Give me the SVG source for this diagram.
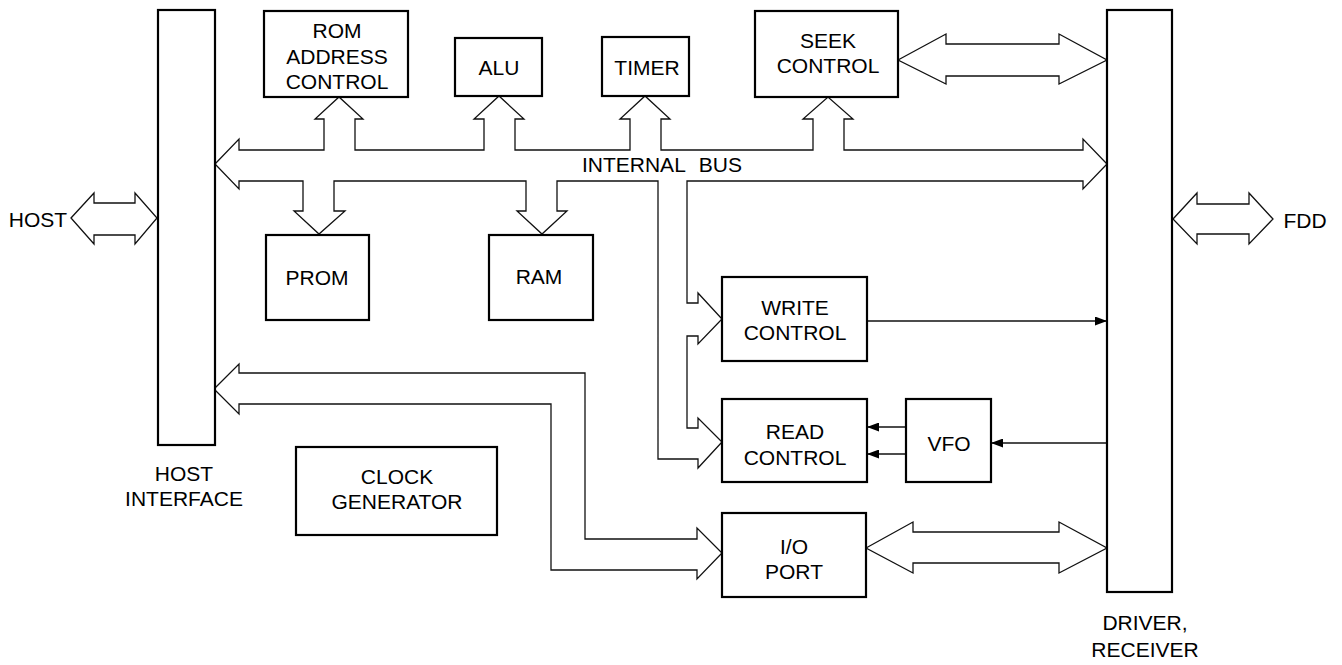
<svg xmlns="http://www.w3.org/2000/svg" width="1342" height="665" viewBox="0 0 1342 665">
<defs>
<style>
.box{fill:#fff;stroke:#000;stroke-width:2.2}
.bar{fill:#fff;stroke:#000;stroke-width:2.2}
.bus{fill:#fff;stroke:#111;stroke-width:1.3;stroke-linejoin:miter}
.ln{fill:none;stroke:#111;stroke-width:1.3}
text{font-family:"Liberation Sans",Arial,sans-serif;font-size:21px;fill:#000;text-anchor:middle}
</style>
<marker id="ah" markerWidth="13" markerHeight="9" refX="12" refY="4.5" orient="auto" markerUnits="userSpaceOnUse">
<path d="M0,0 L12,4.5 L0,9 Z" fill="#000"/>
</marker>
</defs>
<rect width="1342" height="665" fill="#fff"/>

<g id="connectors">
<path id="internal-bus" class="bus" d="M215,164 L239,139 L239,150 L324,150 L324,119 L315,119 L339,97 L363,119 L355,119 L355,150 L484,150 L484,119 L474,119 L499,96 L524,119 L515,119 L515,150 L630,150 L630,119 L620,119 L645,96 L670,119 L661,119 L661,150 L813,150 L813,119 L803,119 L828,97 L853,119 L844,119 L844,150 L1083,150 L1083,139 L1107,164 L1083,189 L1083,181 L687,181 L687,303 L698,303 L698,293 L722,319 L698,344 L698,336 L687,336 L687,428 L698,428 L698,418 L722,442 L698,468 L698,459 L658,459 L658,181 L557,181 L557,211 L567,211 L542,234 L517,211 L526,211 L526,181 L334,181 L334,211 L345,211 L319,234 L294,211 L303,211 L303,181 L239,181 L239,189 Z"/>
<path id="host-io-bus" class="bus" d="M214,389 L239,364 L239,373 L585,373 L585,539 L697,539 L697,528 L722,553 L697,579 L697,570 L551,570 L551,404 L239,404 L239,414 Z"/>
<path id="host-link" class="bus" d="M71,218 L94,193 L94,203 L135,203 L135,193 L157,218 L135,244 L135,235 L94,235 L94,244 Z"/>
<path id="fdd-link" class="bus" d="M1173,219 L1197,193 L1197,204 L1249,204 L1249,193 L1273,219 L1249,244 L1249,234 L1197,234 L1197,244 Z"/>
<path id="seek-link" class="bus" d="M898,60 L946,34 L946,44 L1059,44 L1059,34 L1107,60 L1059,84 L1059,76 L946,76 L946,84 Z"/>
<path id="io-link" class="bus" d="M866,548 L913,522 L913,532 L1059,532 L1059,522 L1107,548 L1059,573 L1059,563 L913,563 L913,573 Z"/>
<line class="ln" x1="867" y1="321" x2="1107" y2="321" marker-end="url(#ah)"/>
<line class="ln" x1="1107" y1="443" x2="991" y2="443" marker-end="url(#ah)"/>
<line class="ln" x1="906" y1="427" x2="867" y2="427" marker-end="url(#ah)"/>
<line class="ln" x1="906" y1="454" x2="867" y2="454" marker-end="url(#ah)"/>
</g>

<g id="host-interface">
<rect class="bar" x="158" y="10" width="57" height="435"/>
<text x="184" y="481">HOST</text>
<text x="184" y="506">INTERFACE</text>
</g>
<g id="driver-receiver">
<rect class="bar" x="1107" y="10" width="65" height="582"/>
<text x="1145" y="630">DRIVER,</text>
<text x="1145" y="657">RECEIVER</text>
</g>
<g id="rom-address-control">
<rect class="box" x="264" y="11" width="144" height="86"/>
<text x="337" y="38">ROM</text>
<text x="337" y="64">ADDRESS</text>
<text x="337" y="89">CONTROL</text>
</g>
<g id="alu">
<rect class="box" x="455" y="38" width="87" height="58"/>
<text x="499" y="75">ALU</text>
</g>
<g id="timer">
<rect class="box" x="602" y="37" width="87" height="59"/>
<text x="647" y="75">TIMER</text>
</g>
<g id="seek-control">
<rect class="box" x="755" y="11" width="143" height="86"/>
<text x="828" y="48">SEEK</text>
<text x="828" y="73">CONTROL</text>
</g>
<g id="prom">
<rect class="box" x="266" y="235" width="103" height="85"/>
<text x="317" y="285">PROM</text>
</g>
<g id="ram">
<rect class="box" x="489" y="235" width="104" height="85"/>
<text x="539" y="284">RAM</text>
</g>
<g id="write-control">
<rect class="box" x="722" y="277" width="145" height="84"/>
<text x="795" y="315">WRITE</text>
<text x="795" y="340">CONTROL</text>
</g>
<g id="read-control">
<rect class="box" x="722" y="399" width="145" height="83"/>
<text x="795" y="439">READ</text>
<text x="795" y="465">CONTROL</text>
</g>
<g id="vfo">
<rect class="box" x="906" y="399" width="85" height="83"/>
<text x="949" y="451">VFO</text>
</g>
<g id="clock-generator">
<rect class="box" x="296" y="447" width="201" height="88"/>
<text x="397" y="484">CLOCK</text>
<text x="397" y="509">GENERATOR</text>
</g>
<g id="io-port">
<rect class="box" x="722" y="513" width="144" height="84"/>
<text x="794" y="554">I/O</text>
<text x="794" y="579">PORT</text>
</g>
<g id="labels">
<text x="38" y="227">HOST</text>
<text x="1305" y="228">FDD</text>
<text x="662" y="172" word-spacing="8">INTERNAL BUS</text>
</g>
</svg>
